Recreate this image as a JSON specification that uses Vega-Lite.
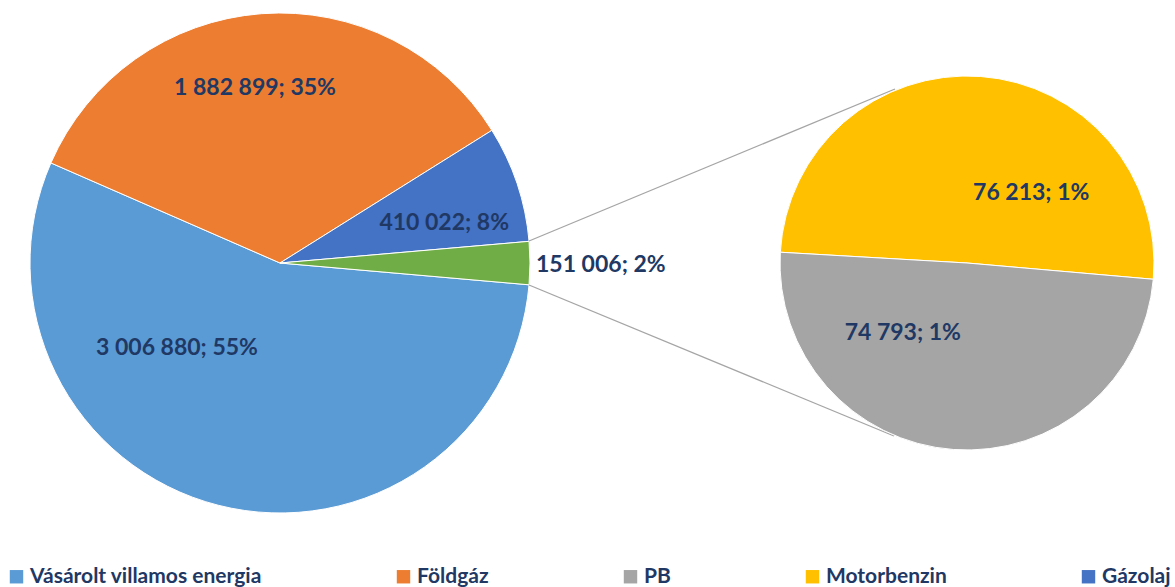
{
  "$schema": "https://vega.github.io/schema/vega-lite/v6.json",
  "padding": 0,
  "background": "white",
  "config": {"view": {"stroke": null}, "font": "Lato"},
  "bounds": "flush",
  "spacing": 220,
  "resolve": {"scale": {"theta": "independent"}},
  "hconcat": [
    {
      "width": 560,
      "height": 526,
      "data": {"values": [
        {"cat": "Vásárolt villamos energia", "value": 3006880, "label": "3 006 880; 55%", "ord": 1},
        {"cat": "Földgáz", "value": 1882899, "label": "1 882 899; 35%", "ord": 2},
        {"cat": "Gázolaj", "value": 410022, "label": "410 022; 8%", "ord": 3},
        {"cat": "Egyéb", "value": 151006, "label": "151 006; 2%", "ord": 4}
      ]},
      "layer": [
        {
          "mark": {"type": "arc", "outerRadius": 250, "stroke": "white", "strokeWidth": 1},
          "encoding": {
            "theta": {"field": "value", "type": "quantitative", "stack": true, "scale": {"range": [1.6581, 7.9413]}},
            "order": {"field": "ord", "type": "quantitative"},
            "color": {
              "field": "cat", "type": "nominal",
              "scale": {
                "domain": ["Vásárolt villamos energia", "Földgáz", "PB", "Motorbenzin", "Gázolaj", "Egyéb"],
                "range": ["#5B9BD5", "#ED7D31", "#A5A5A5", "#FFC000", "#4472C4", "#70AD47"]
              },
              "legend": {
                "orient": "none", "legendX": 6, "legendY": 566, "padding": 0, "direction": "horizontal", "title": null,
                "values": ["Vásárolt villamos energia", "Földgáz", "PB", "Motorbenzin", "Gázolaj"],
                "symbolType": "square", "symbolSize": 180, "symbolStrokeWidth": 0,
                "labelFont": "Lato", "labelFontWeight": "bold", "labelFontSize": 21, "labelColor": "#1F3864",
                "labelOffset": 3, "columnPadding": 131, "labelLimit": 400
              }
            }
          }
        },
        {
          "mark": {"type": "text", "radius": 133.5, "thetaOffset": 0.632, "font": "Lato", "fontWeight": "bold", "fontSize": 23, "fill": "#203864"},
          "encoding": {
            "theta": {"field": "value", "type": "quantitative", "stack": true},
            "order": {"field": "ord", "type": "quantitative"},
            "text": {"condition": {"test": "datum.cat === 'Vásárolt villamos energia'", "field": "label", "type": "nominal"}, "value": ""}
          }
        },
        {
          "mark": {"type": "text", "radius": 176.8, "thetaOffset": -0.068, "font": "Lato", "fontWeight": "bold", "fontSize": 23, "fill": "#203864"},
          "encoding": {
            "theta": {"field": "value", "type": "quantitative", "stack": true},
            "order": {"field": "ord", "type": "quantitative"},
            "text": {"condition": {"test": "datum.cat === 'Földgáz'", "field": "label", "type": "nominal"}, "value": ""}
          }
        },
        {
          "mark": {"type": "text", "radius": 169, "thetaOffset": 0.084, "font": "Lato", "fontWeight": "bold", "fontSize": 23, "fill": "#203864"},
          "encoding": {
            "theta": {"field": "value", "type": "quantitative", "stack": true},
            "order": {"field": "ord", "type": "quantitative"},
            "text": {"condition": {"test": "datum.cat === 'Gázolaj'", "field": "label", "type": "nominal"}, "value": ""}
          }
        },
        {
          "mark": {"type": "text", "radius": 250, "align": "left", "dx": 6, "dy": 2, "font": "Lato", "fontWeight": "bold", "fontSize": 23, "fill": "#203864"},
          "encoding": {
            "theta": {"field": "value", "type": "quantitative", "stack": true},
            "order": {"field": "ord", "type": "quantitative"},
            "text": {"condition": {"test": "datum.cat === 'Egyéb'", "field": "label", "type": "nominal"}, "value": ""}
          }
        },
        {
          "data": {"values": [{}]},
          "mark": {"type": "rule", "color": "#A5A5A5", "strokeWidth": 1.3},
          "encoding": {
            "x": {"datum": 529, "type": "quantitative", "scale": {"domain": [0, 560], "range": [0, 560], "nice": false, "zero": false}, "axis": null},
            "y": {"datum": 241, "type": "quantitative", "scale": {"domain": [0, 526], "range": [0, 526], "nice": false, "zero": false}, "axis": null},
            "x2": {"datum": 895},
            "y2": {"datum": 89}
          }
        },
        {
          "data": {"values": [{}]},
          "mark": {"type": "rule", "color": "#A5A5A5", "strokeWidth": 1.3},
          "encoding": {
            "x": {"datum": 529, "type": "quantitative", "axis": null},
            "y": {"datum": 285, "type": "quantitative", "axis": null},
            "x2": {"datum": 894},
            "y2": {"datum": 436}
          }
        }
      ]
    },
    {
      "width": 374,
      "height": 526,
      "data": {"values": [
        {"cat": "Motorbenzin", "value": 76213, "label": "76 213; 1%", "ord": 1},
        {"cat": "PB", "value": 74793, "label": "74 793; 1%", "ord": 2}
      ]},
      "layer": [
        {
          "mark": {"type": "arc", "outerRadius": 187, "stroke": "white", "strokeWidth": 1},
          "encoding": {
            "theta": {"field": "value", "type": "quantitative", "stack": true, "scale": {"range": [-1.5132, 4.77]}},
            "order": {"field": "ord", "type": "quantitative"},
            "color": {"field": "cat", "type": "nominal"}
          }
        },
        {
          "mark": {"type": "text", "radius": 95, "thetaOffset": 0.67, "font": "Lato", "fontWeight": "bold", "fontSize": 23, "fill": "#203864"},
          "encoding": {
            "theta": {"field": "value", "type": "quantitative", "stack": true},
            "order": {"field": "ord", "type": "quantitative"},
            "text": {"field": "label", "type": "nominal"}
          }
        }
      ]
    }
  ]
}
